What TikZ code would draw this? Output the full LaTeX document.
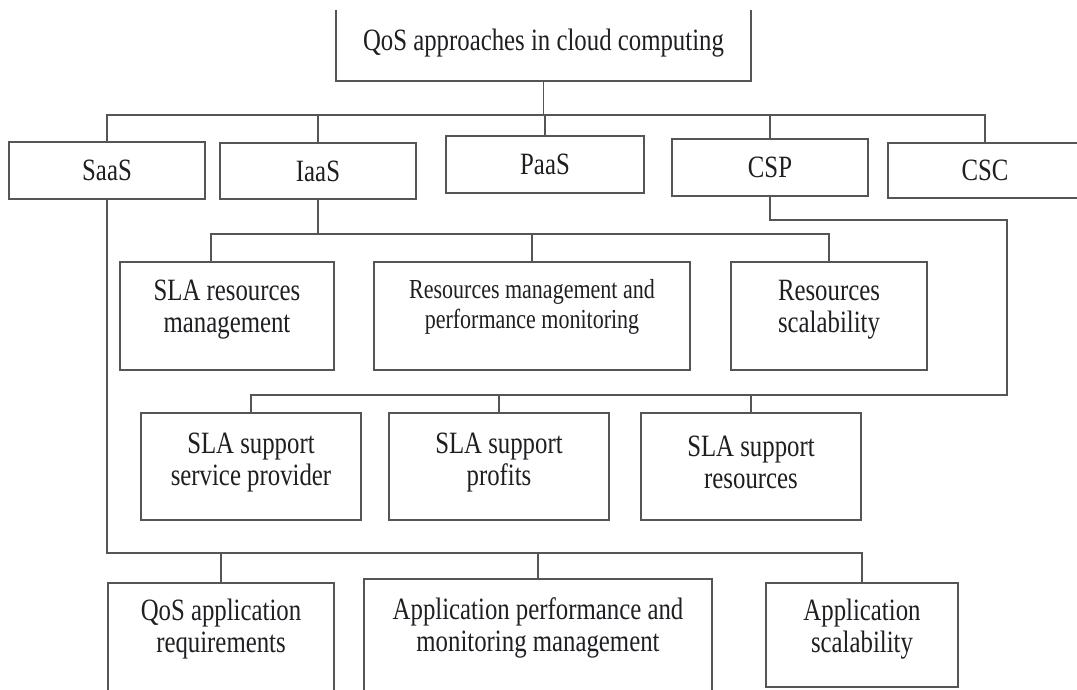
\documentclass[tikz,border=0pt]{standalone}
\usepackage{fontspec}
\setmainfont{Liberation Serif}[FakeStretch=0.8]
\definecolor{linec}{RGB}{85,85,85}
\definecolor{textc}{RGB}{30,30,35}
\begin{document}
\begin{tikzpicture}[x=1pt,y=-1pt,
  box/.style={draw=linec,line width=1.9pt,rectangle,inner sep=0pt},
  txt/.style={text=textc,align=center,inner sep=0pt,font=\fontsize{31}{32}\selectfont},
  smalltxt/.style={txt,font=\fontsize{27.5}{30}\selectfont},
  conn/.style={draw=linec,line width=1.9pt}]
\useasboundingbox (0,0) rectangle (1077,689);
% root (open at top)
\node[inner sep=0pt,minimum width=415pt,minimum height=71pt] (root) at (543.5,45.5) {};
\draw[conn] (root.north west) -- (root.south west) -- (root.south east) -- (root.north east);
\node[txt] (root-t) at (543.5,43) {QoS approaches in cloud computing};
% level 1
\node[box,minimum width=196pt,minimum height=57pt] (saas) at (107,170.5) {};
\node[txt] (saas-t) at (saas.center) {SaaS};
\node[box,minimum width=196pt,minimum height=56pt] (iaas) at (318,171) {};
\node[txt] (iaas-t) at (iaas.center) {IaaS};
\node[box,minimum width=198pt,minimum height=57pt] (paas) at (545,164.5) {};
\node[txt] (paas-t) at (paas.center) {PaaS};
\node[box,minimum width=196pt,minimum height=57pt] (csp) at (770,167.5) {};
\node[txt] (csp-t) at (csp.center) {CSP};
\node[box,minimum width=194pt,minimum height=55pt] (csc) at (985,170.5) {};
\node[txt] (csc-t) at (csc.center) {CSC};
% level 2
\node[box,minimum width=214pt,minimum height=108pt] (slarm) at (227,316) {};
\node[txt] (slarm-t) at (227,310) {SLA resources\\management};
\node[box,minimum width=316pt,minimum height=108pt] (rmpm) at (532,316) {};
\node[smalltxt] (rmpm-t) at (532,307) {Resources management and\\performance monitoring};
\node[box,minimum width=196pt,minimum height=108pt] (rs) at (829,316) {};
\node[txt] (rs-t) at (829,310) {Resources\\scalability};
% level 3
\node[box,minimum width=220pt,minimum height=107pt] (sla1) at (251,466.5) {};
\node[txt] (sla1-t) at (251,462.5) {SLA support\\service provider};
\node[box,minimum width=220pt,minimum height=107pt] (sla2) at (499,466.5) {};
\node[txt] (sla2-t) at (499,462.5) {SLA support\\profits};
\node[box,minimum width=220pt,minimum height=107pt] (sla3) at (751,466.5) {};
\node[txt] (sla3-t) at (751,462.5) {SLA support\\resources};
% level 4
\node[box,minimum width=226pt,minimum height=137pt] (qos) at (221,651.5) {};
\node[txt] (qos-t) at (221,629) {QoS application\\requirements};
\node[box,minimum width=348pt,minimum height=141pt] (app) at (538,649.5) {};
\node[txt] (app-t) at (538,628) {Application performance and\\monitoring management};
\node[box,minimum width=192pt,minimum height=104pt] (appsc) at (862,635) {};
\node[txt] (appsc-t) at (862,629) {Application\\scalability};
% bus coordinates
\coordinate (b1) at (0,115);
\coordinate (b2) at (0,234);
\coordinate (cspr) at (1007,220);
\coordinate (b3) at (0,395);
\coordinate (b4) at (0,553);
\coordinate (slarmdrop) at (211,262);
% root -> level 1
\draw[conn] (root.south) -- (root.south |- b1);
\draw[conn] (saas.north) -- (saas.north |- b1) -| (csc.north);
\draw[conn] (iaas.north) -- (iaas.north |- b1);
\draw[conn] (paas.north) -- (paas.north |- b1);
\draw[conn] (csp.north) -- (csp.north |- b1);
% IaaS -> level 2
\draw[conn] (iaas.south) -- (iaas.south |- b2);
\draw[conn] (slarmdrop) -- (slarmdrop |- b2) -| (rs.north);
\draw[conn] (rmpm.north) -- (rmpm.north |- b2);
% CSP -> level 3
\draw[conn] (csp.south) |- (cspr) -- (cspr |- b3) -| (sla1.north);
\draw[conn] (sla2.north) -- (sla2.north |- b3);
\draw[conn] (sla3.north) -- (sla3.north |- b3);
% SaaS -> level 4
\draw[conn] (saas.south) |- (appsc.north |- b4) -- (appsc.north);
\draw[conn] (qos.north) -- (qos.north |- b4);
\draw[conn] (app.north) -- (app.north |- b4);
\end{tikzpicture}
\end{document}
